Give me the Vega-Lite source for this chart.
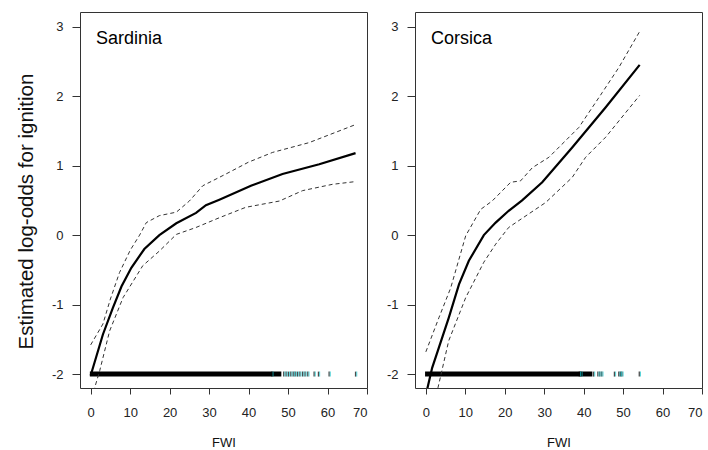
{
  "$schema": "https://vega.github.io/schema/vega-lite/v6.json",
  "padding": {"left": 15, "top": 11, "right": 0, "bottom": 0},
  "bounds": "flush",
  "spacing": 48,
  "background": "white",
  "config": {
    "font": "Liberation Sans",
    "view": {"stroke": "#333", "strokeWidth": 1},
    "axis": {"grid": false, "domain": false, "tickColor": "#333", "tickWidth": 1, "labelColor": "#222", "labelFontSize": 13, "titleColor": "#111", "titleFontWeight": "normal"},
    "axisX": {"tickSize": 6, "labelPadding": 12, "titleFontSize": 13, "titlePadding": 17},
    "axisY": {"tickSize": 8, "labelPadding": 9, "titleFontSize": 20.5, "titleBaseline": "alphabetic", "titleX": -48, "titleY": 199},
    "title": {"fontSize": 18, "fontWeight": "normal", "anchor": "start", "frame": "group", "color": "#000", "baseline": "alphabetic", "offset": -36, "dx": 16}
  },
  "datasets": {
    "sard": [
      {"band": "fit", "fwi": 0, "est": -2.02},
      {"band": "fit", "fwi": 3.1, "est": -1.43},
      {"band": "fit", "fwi": 5.6, "est": -1.05},
      {"band": "fit", "fwi": 7.8, "est": -0.74},
      {"band": "fit", "fwi": 10.3, "est": -0.47},
      {"band": "fit", "fwi": 13.6, "est": -0.2},
      {"band": "fit", "fwi": 17.4, "est": 0.0},
      {"band": "fit", "fwi": 21.7, "est": 0.17},
      {"band": "fit", "fwi": 26.7, "est": 0.32},
      {"band": "fit", "fwi": 29.2, "est": 0.43},
      {"band": "fit", "fwi": 32.6, "est": 0.51},
      {"band": "fit", "fwi": 40.6, "est": 0.71},
      {"band": "fit", "fwi": 48.6, "est": 0.88},
      {"band": "fit", "fwi": 57.9, "est": 1.02},
      {"band": "fit", "fwi": 67.1, "est": 1.18},
      {"band": "upper", "fwi": 0, "est": -1.58},
      {"band": "upper", "fwi": 3.1, "est": -1.28},
      {"band": "upper", "fwi": 5.0, "est": -0.92},
      {"band": "upper", "fwi": 7.3, "est": -0.54},
      {"band": "upper", "fwi": 10.0, "est": -0.22},
      {"band": "upper", "fwi": 12.4, "est": 0.0},
      {"band": "upper", "fwi": 14.1, "est": 0.18},
      {"band": "upper", "fwi": 17.4, "est": 0.28},
      {"band": "upper", "fwi": 21.7, "est": 0.33},
      {"band": "upper", "fwi": 25.0, "est": 0.49},
      {"band": "upper", "fwi": 28.4, "est": 0.71},
      {"band": "upper", "fwi": 34.3, "est": 0.88},
      {"band": "upper", "fwi": 40.0, "est": 1.05},
      {"band": "upper", "fwi": 46.1, "est": 1.19},
      {"band": "upper", "fwi": 55.3, "est": 1.33},
      {"band": "upper", "fwi": 67.1, "est": 1.59},
      {"band": "lower", "fwi": 0, "est": -2.45},
      {"band": "lower", "fwi": 1.0, "est": -2.2},
      {"band": "lower", "fwi": 2.3, "est": -1.95},
      {"band": "lower", "fwi": 4.8, "est": -1.38},
      {"band": "lower", "fwi": 8.2, "est": -0.9},
      {"band": "lower", "fwi": 13.2, "est": -0.44},
      {"band": "lower", "fwi": 17.4, "est": -0.23},
      {"band": "lower", "fwi": 21.7, "est": 0.01},
      {"band": "lower", "fwi": 26.7, "est": 0.11},
      {"band": "lower", "fwi": 32.6, "est": 0.25},
      {"band": "lower", "fwi": 39.3, "est": 0.4},
      {"band": "lower", "fwi": 47.8, "est": 0.49},
      {"band": "lower", "fwi": 53.7, "est": 0.64},
      {"band": "lower", "fwi": 61.2, "est": 0.73},
      {"band": "lower", "fwi": 67.1, "est": 0.77}
    ],
    "sardRugBar": [{"from": -0.2, "to": 48.3}],
    "sardRug": [
      {"fwi": 45.9}, {"fwi": 48.9}, {"fwi": 49.5}, {"fwi": 50.1}, {"fwi": 50.7}, {"fwi": 51.3},
      {"fwi": 51.8}, {"fwi": 52.4}, {"fwi": 53.0}, {"fwi": 53.7}, {"fwi": 54.3}, {"fwi": 55.0},
      {"fwi": 56.6}, {"fwi": 57.7}, {"fwi": 60.4}, {"fwi": 67.1}
    ],
    "cors": [
      {"band": "fit", "fwi": 0, "est": -2.3},
      {"band": "fit", "fwi": 1.6, "est": -1.91},
      {"band": "fit", "fwi": 3.3, "est": -1.62},
      {"band": "fit", "fwi": 5.8, "est": -1.19},
      {"band": "fit", "fwi": 8.4, "est": -0.71},
      {"band": "fit", "fwi": 10.9, "est": -0.37},
      {"band": "fit", "fwi": 14.7, "est": 0.0},
      {"band": "fit", "fwi": 17.7, "est": 0.18},
      {"band": "fit", "fwi": 21.0, "est": 0.35},
      {"band": "fit", "fwi": 24.4, "est": 0.5},
      {"band": "fit", "fwi": 29.5, "est": 0.76},
      {"band": "fit", "fwi": 37.1, "est": 1.26},
      {"band": "fit", "fwi": 45.6, "est": 1.84},
      {"band": "fit", "fwi": 54.2, "est": 2.45},
      {"band": "upper", "fwi": 0, "est": -1.68},
      {"band": "upper", "fwi": 3.3, "est": -1.19},
      {"band": "upper", "fwi": 6.3, "est": -0.76},
      {"band": "upper", "fwi": 10.1, "est": -0.01},
      {"band": "upper", "fwi": 13.9, "est": 0.37},
      {"band": "upper", "fwi": 16.8, "est": 0.49},
      {"band": "upper", "fwi": 21.5, "est": 0.76},
      {"band": "upper", "fwi": 24.0, "est": 0.78},
      {"band": "upper", "fwi": 27.0, "est": 0.97},
      {"band": "upper", "fwi": 31.2, "est": 1.12},
      {"band": "upper", "fwi": 38.8, "est": 1.55},
      {"band": "upper", "fwi": 44.7, "est": 2.05},
      {"band": "upper", "fwi": 48.9, "est": 2.41},
      {"band": "upper", "fwi": 54.2, "est": 2.93},
      {"band": "lower", "fwi": 1.8, "est": -2.6},
      {"band": "lower", "fwi": 3.1, "est": -2.19},
      {"band": "lower", "fwi": 5.8, "est": -1.52},
      {"band": "lower", "fwi": 10.1, "est": -0.9},
      {"band": "lower", "fwi": 14.7, "est": -0.39},
      {"band": "lower", "fwi": 17.7, "est": -0.13},
      {"band": "lower", "fwi": 21.0, "est": 0.11},
      {"band": "lower", "fwi": 23.6, "est": 0.21},
      {"band": "lower", "fwi": 30.4, "est": 0.47},
      {"band": "lower", "fwi": 37.1, "est": 0.83},
      {"band": "lower", "fwi": 40.5, "est": 1.12},
      {"band": "lower", "fwi": 45.6, "est": 1.41},
      {"band": "lower", "fwi": 54.2, "est": 2.01}
    ],
    "corsRugBar": [{"from": -0.2, "to": 42.2}],
    "corsRug": [
      {"fwi": 38.9}, {"fwi": 39.3}, {"fwi": 42.5}, {"fwi": 43.6}, {"fwi": 44.1}, {"fwi": 44.6},
      {"fwi": 47.8}, {"fwi": 48.9}, {"fwi": 49.3}, {"fwi": 49.7}, {"fwi": 54.1}
    ]
  },
  "hconcat": [
    {
      "width": 287, "height": 376,
      "title": "Sardinia",
      "layer": [
        {"mark": {"type": "rule", "color": "#555", "strokeWidth": 1},
         "encoding": {"y": {"datum": 0, "type": "quantitative", "scale": {"domain": [-2.2, 3.21], "nice": false, "zero": false}, "axis": {"values": [-2, -1, 0, 1, 2, 3], "labelExpr": "'' + datum.value"}, "title": "Estimated log-odds for ignition"}}},
        {"data": {"name": "sardRugBar"},
         "mark": {"type": "rule", "color": "#000", "strokeWidth": 5, "strokeCap": "butt"},
         "encoding": {"x": {"field": "from", "type": "quantitative", "scale": {"domain": [-2.7, 70], "nice": false, "zero": false}, "axis": {"values": [0, 10, 20, 30, 40, 50, 60, 70]}, "title": "FWI"}, "x2": {"field": "to"}, "y": {"datum": -2, "type": "quantitative"}}},
        {"data": {"name": "sardRug"},
         "mark": {"type": "tick", "orient": "vertical", "color": "#000", "size": 5, "thickness": 1.3},
         "encoding": {"x": {"field": "fwi", "type": "quantitative", "title": "FWI"}, "y": {"datum": -2, "type": "quantitative"}}},
        {"data": {"name": "sardRug"},
         "mark": {"type": "tick", "orient": "vertical", "color": "#10c0c8", "size": 5, "thickness": 1, "xOffset": 1.2},
         "encoding": {"x": {"field": "fwi", "type": "quantitative", "title": "FWI"}, "y": {"datum": -2, "type": "quantitative"}}},
        {"data": {"name": "sard"},
         "transform": [{"filter": "datum.band !== 'fit'"}],
         "mark": {"type": "line", "color": "#333", "strokeWidth": 1, "strokeDash": [4, 3], "clip": true},
         "encoding": {"x": {"field": "fwi", "type": "quantitative", "title": "FWI"}, "y": {"field": "est", "type": "quantitative", "title": "Estimated log-odds for ignition"}, "detail": {"field": "band"}}},
        {"data": {"name": "sard"},
         "transform": [{"filter": "datum.band === 'fit'"}],
         "mark": {"type": "line", "color": "#000", "strokeWidth": 2.2, "clip": true},
         "encoding": {"x": {"field": "fwi", "type": "quantitative", "title": "FWI"}, "y": {"field": "est", "type": "quantitative", "title": "Estimated log-odds for ignition"}}}
      ]
    },
    {
      "width": 287, "height": 376,
      "title": "Corsica",
      "layer": [
        {"mark": {"type": "rule", "color": "#555", "strokeWidth": 1},
         "encoding": {"y": {"datum": 0, "type": "quantitative", "scale": {"domain": [-2.2, 3.21], "nice": false, "zero": false}, "axis": {"values": [-2, -1, 0, 1, 2, 3], "labelExpr": "'' + datum.value"}, "title": null}}},
        {"data": {"name": "corsRugBar"},
         "mark": {"type": "rule", "color": "#000", "strokeWidth": 5, "strokeCap": "butt"},
         "encoding": {"x": {"field": "from", "type": "quantitative", "scale": {"domain": [-2.75, 70], "nice": false, "zero": false}, "axis": {"values": [0, 10, 20, 30, 40, 50, 60, 70]}, "title": "FWI"}, "x2": {"field": "to"}, "y": {"datum": -2, "type": "quantitative"}}},
        {"data": {"name": "corsRug"},
         "mark": {"type": "tick", "orient": "vertical", "color": "#000", "size": 5, "thickness": 1.3},
         "encoding": {"x": {"field": "fwi", "type": "quantitative", "title": "FWI"}, "y": {"datum": -2, "type": "quantitative"}}},
        {"data": {"name": "corsRug"},
         "mark": {"type": "tick", "orient": "vertical", "color": "#10c0c8", "size": 5, "thickness": 1, "xOffset": 1.2},
         "encoding": {"x": {"field": "fwi", "type": "quantitative", "title": "FWI"}, "y": {"datum": -2, "type": "quantitative"}}},
        {"data": {"name": "cors"},
         "transform": [{"filter": "datum.band !== 'fit'"}],
         "mark": {"type": "line", "color": "#333", "strokeWidth": 1, "strokeDash": [4, 3], "clip": true},
         "encoding": {"x": {"field": "fwi", "type": "quantitative", "title": "FWI"}, "y": {"field": "est", "type": "quantitative", "title": null}, "detail": {"field": "band"}}},
        {"data": {"name": "cors"},
         "transform": [{"filter": "datum.band === 'fit'"}],
         "mark": {"type": "line", "color": "#000", "strokeWidth": 2.2, "clip": true},
         "encoding": {"x": {"field": "fwi", "type": "quantitative", "title": "FWI"}, "y": {"field": "est", "type": "quantitative", "title": null}}}
      ]
    }
  ]
}
